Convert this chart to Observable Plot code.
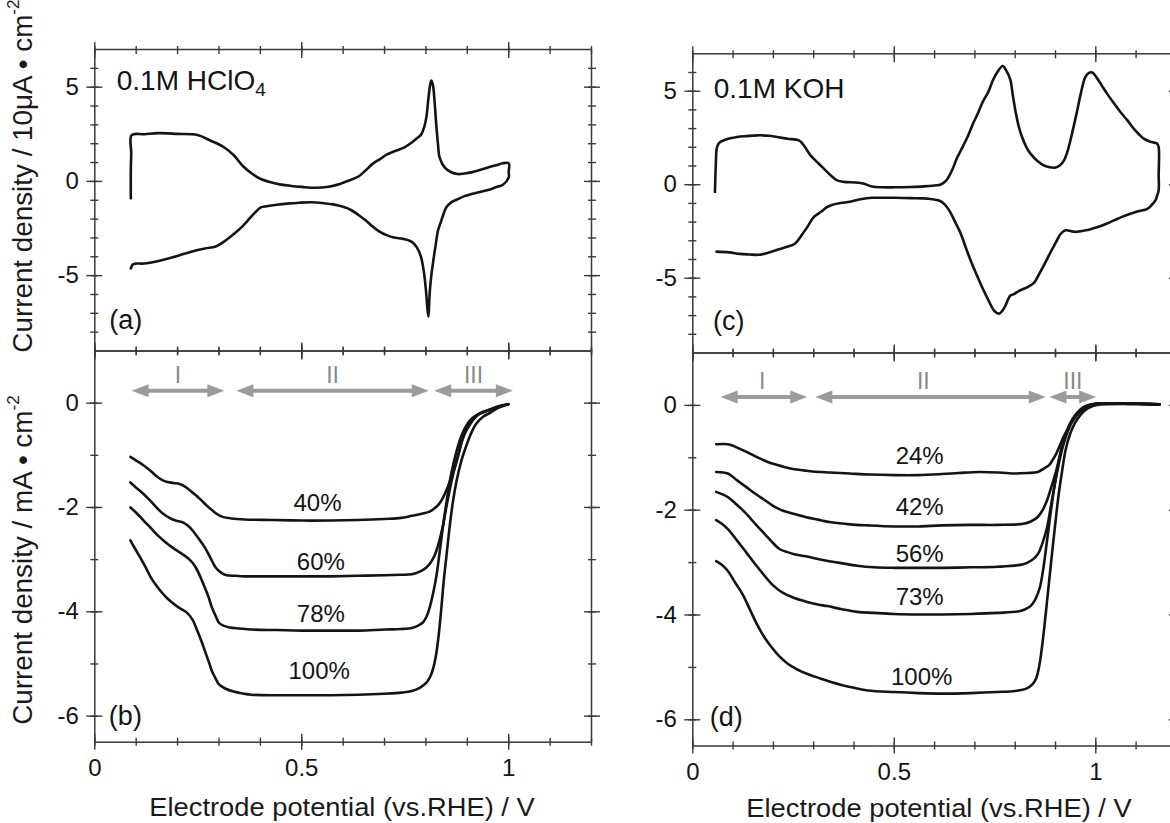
<!DOCTYPE html>
<html><head><meta charset="utf-8">
<script src="https://cdn.jsdelivr.net/npm/d3@7"></script>
<script src="https://cdn.jsdelivr.net/npm/@observablehq/plot@0.6"></script>
<style>
html,body{margin:0;padding:0;background:#fff;}
#fig{position:relative;width:1170px;height:823px;overflow:hidden;background:#fff;font-family:"Liberation Sans",Arial,sans-serif;color:#1a1a1a;}
#fig svg{position:absolute;left:0;top:0;}
.title{position:absolute;white-space:nowrap;font-size:26px;line-height:1;transform:translate(-50%,-50%) scaleX(1.05);}
.ytitle{font-size:27px;transform:translate(-50%,-50%) rotate(-90deg) scaleX(1.03);}
.title sup{font-size:0.62em;vertical-align:0.75em;line-height:0;}
</style></head><body><div id="fig"></div>
<script>
// ---------------- data ----------------
// x ticks (V)
const xMajorTicks = [0, 0.5, 1];
const xMinorTicks = [0, 0.1, 0.2, 0.3, 0.4, 0.5, 0.6, 0.7, 0.8, 0.9, 1, 1.1, 1.2];
// CV panels (a),(c): current density / 10 uA cm-2
const cvMajorTicks = [-5, 0, 5];
const cvMinorTicks = [-8, -7, -6, -5, -4, -3, -2, -1, 0, 1, 2, 3, 4, 5, 6];
// LSV panels (b),(d): current density / mA cm-2
const lsvMajorTicks = [0, -2, -4, -6];
const lsvMinorTicks = [0, -1, -2, -3, -4, -5, -6];

// (a) CV in 0.1 M HClO4
const cvAcid = [[0.087,-0.9],[0.087,0.6],[0.088,1.5],[0.089,2.46],[0.12,2.5],[0.153,2.56],[0.2,2.52],[0.248,2.46],[0.28,2.16],[0.313,1.8],[0.337,1.36],[0.357,0.83],[0.381,0.39],[0.401,0.13],[0.425,-0.05],[0.45,-0.17],[0.475,-0.24],[0.5,-0.29],[0.533,-0.34],[0.565,-0.28],[0.594,-0.12],[0.615,0.05],[0.637,0.26],[0.655,0.6],[0.671,0.93],[0.69,1.2],[0.706,1.43],[0.73,1.65],[0.749,1.82],[0.765,2.05],[0.779,2.3],[0.789,2.5],[0.796,2.9],[0.801,3.4],[0.806,4.4],[0.81,5.1],[0.813,5.35],[0.817,5.1],[0.821,4.2],[0.825,3.0],[0.829,2.0],[0.833,1.27],[0.845,0.74],[0.86,0.5],[0.877,0.39],[0.893,0.42],[0.91,0.48],[0.93,0.6],[0.95,0.74],[0.97,0.86],[0.986,0.96],[1.0,0.96],[1.0,0.5],[1.0,0.21],[0.986,-0.18],[0.97,-0.3],[0.95,-0.46],[0.93,-0.56],[0.91,-0.67],[0.893,-0.78],[0.877,-0.94],[0.862,-1.1],[0.849,-1.38],[0.843,-1.7],[0.837,-2.09],[0.829,-2.62],[0.824,-3.3],[0.818,-4.18],[0.813,-5.0],[0.809,-5.94],[0.806,-7.18],[0.803,-6.6],[0.8,-5.77],[0.795,-4.8],[0.788,-4.0],[0.778,-3.5],[0.766,-3.21],[0.745,-3.05],[0.723,-2.98],[0.705,-2.85],[0.689,-2.68],[0.672,-2.4],[0.654,-2.06],[0.637,-1.78],[0.62,-1.53],[0.6,-1.35],[0.576,-1.22],[0.55,-1.15],[0.525,-1.11],[0.495,-1.13],[0.464,-1.18],[0.44,-1.24],[0.415,-1.32],[0.401,-1.38],[0.385,-1.7],[0.369,-2.09],[0.356,-2.4],[0.345,-2.62],[0.33,-2.9],[0.312,-3.2],[0.292,-3.45],[0.266,-3.56],[0.235,-3.72],[0.205,-3.92],[0.18,-4.08],[0.154,-4.22],[0.119,-4.36],[0.093,-4.39],[0.087,-4.62]];

// (c) CV in 0.1 M KOH
const cvAlkaline = [[0.055,-0.39],[0.057,1.0],[0.06,2.0],[0.066,2.25],[0.08,2.4],[0.11,2.55],[0.134,2.6],[0.16,2.64],[0.189,2.62],[0.209,2.55],[0.235,2.46],[0.263,2.37],[0.272,2.2],[0.282,1.9],[0.292,1.57],[0.308,1.22],[0.325,0.86],[0.342,0.5],[0.358,0.23],[0.375,0.15],[0.404,0.12],[0.425,0.05],[0.445,-0.1],[0.47,-0.14],[0.5,-0.14],[0.54,-0.12],[0.573,-0.09],[0.6,-0.04],[0.614,0],[0.625,0.15],[0.633,0.35],[0.645,0.85],[0.655,1.4],[0.669,2.0],[0.683,2.62],[0.695,3.25],[0.706,3.75],[0.72,4.45],[0.733,4.95],[0.745,5.6],[0.755,6.0],[0.769,6.35],[0.778,6.1],[0.788,5.6],[0.794,4.8],[0.801,3.9],[0.809,3.1],[0.817,2.55],[0.828,2.0],[0.838,1.66],[0.856,1.25],[0.871,1.03],[0.886,0.93],[0.9,0.92],[0.912,1.05],[0.921,1.3],[0.93,1.8],[0.937,2.37],[0.946,3.2],[0.954,3.98],[0.963,4.9],[0.974,5.75],[0.983,5.98],[0.991,6.0],[1.003,5.7],[1.015,5.3],[1.028,4.87],[1.045,4.35],[1.061,3.89],[1.078,3.45],[1.094,3.0],[1.107,2.7],[1.119,2.46],[1.135,2.3],[1.152,2.2],[1.156,2.0],[1.156,0.5],[1.156,-0.3],[1.152,-0.6],[1.148,-0.84],[1.138,-1.1],[1.128,-1.29],[1.105,-1.42],[1.086,-1.55],[1.065,-1.72],[1.045,-1.91],[1.025,-2.1],[1.003,-2.27],[0.975,-2.44],[0.948,-2.52],[0.925,-2.44],[0.912,-2.65],[0.902,-3.05],[0.888,-3.6],[0.874,-4.19],[0.86,-4.75],[0.847,-5.24],[0.833,-5.45],[0.82,-5.58],[0.808,-5.7],[0.797,-5.85],[0.788,-5.93],[0.783,-6.1],[0.775,-6.5],[0.768,-6.75],[0.761,-6.89],[0.754,-6.85],[0.747,-6.72],[0.734,-6.2],[0.72,-5.58],[0.706,-4.9],[0.692,-4.19],[0.678,-3.4],[0.665,-2.62],[0.65,-1.95],[0.637,-1.4],[0.625,-1.05],[0.614,-0.87],[0.595,-0.78],[0.573,-0.73],[0.54,-0.72],[0.5,-0.7],[0.47,-0.7],[0.445,-0.7],[0.416,-0.78],[0.39,-0.91],[0.367,-0.98],[0.345,-1.08],[0.333,-1.2],[0.318,-1.45],[0.3,-1.73],[0.284,-2.27],[0.27,-2.7],[0.254,-3.14],[0.23,-3.35],[0.208,-3.49],[0.185,-3.65],[0.163,-3.75],[0.14,-3.73],[0.117,-3.7],[0.09,-3.62],[0.059,-3.58]];

// (b) LSV in HClO4 for each coverage
const lsvAcidNames = ["40%", "60%", "78%", "100%"];
const lsvAcid40 = [[0.086,-1.03],[0.1,-1.1],[0.119,-1.2],[0.135,-1.3],[0.154,-1.43],[0.17,-1.5],[0.19,-1.53],[0.205,-1.55],[0.218,-1.6],[0.231,-1.68],[0.245,-1.77],[0.257,-1.86],[0.27,-1.96],[0.283,-2.05],[0.296,-2.13],[0.309,-2.18],[0.33,-2.21],[0.361,-2.23],[0.43,-2.24],[0.5,-2.25],[0.57,-2.25],[0.637,-2.24],[0.7,-2.22],[0.74,-2.2],[0.766,-2.16],[0.79,-2.12],[0.809,-2.08],[0.82,-2.02],[0.831,-1.94],[0.842,-1.8],[0.852,-1.62],[0.861,-1.43],[0.87,-1.23],[0.879,-0.98],[0.887,-0.72],[0.895,-0.56],[0.904,-0.44],[0.915,-0.31],[0.93,-0.2],[0.945,-0.15],[0.956,-0.12],[0.97,-0.08],[0.982,-0.05],[0.999,-0.02]];
const lsvAcid60 = [[0.086,-1.52],[0.1,-1.62],[0.119,-1.75],[0.135,-1.88],[0.154,-2.04],[0.17,-2.15],[0.188,-2.23],[0.2,-2.26],[0.214,-2.29],[0.228,-2.37],[0.24,-2.48],[0.253,-2.62],[0.266,-2.77],[0.279,-2.96],[0.292,-3.15],[0.305,-3.25],[0.318,-3.3],[0.34,-3.31],[0.361,-3.32],[0.43,-3.32],[0.5,-3.32],[0.57,-3.32],[0.637,-3.31],[0.7,-3.3],[0.74,-3.29],[0.766,-3.28],[0.785,-3.23],[0.801,-3.15],[0.812,-3.05],[0.822,-2.9],[0.831,-2.68],[0.84,-2.39],[0.848,-2.05],[0.857,-1.68],[0.867,-1.32],[0.878,-0.98],[0.887,-0.73],[0.896,-0.53],[0.908,-0.36],[0.921,-0.24],[0.94,-0.16],[0.956,-0.12],[0.975,-0.06],[0.999,-0.02]];
const lsvAcid78 = [[0.086,-2.0],[0.1,-2.1],[0.119,-2.26],[0.135,-2.39],[0.154,-2.55],[0.17,-2.66],[0.188,-2.77],[0.205,-2.86],[0.223,-2.96],[0.235,-3.05],[0.244,-3.15],[0.255,-3.33],[0.266,-3.54],[0.275,-3.72],[0.283,-3.92],[0.292,-4.08],[0.3,-4.21],[0.312,-4.27],[0.326,-4.3],[0.35,-4.32],[0.378,-4.34],[0.44,-4.35],[0.5,-4.36],[0.57,-4.36],[0.637,-4.36],[0.7,-4.34],[0.74,-4.33],[0.766,-4.31],[0.78,-4.27],[0.792,-4.21],[0.801,-4.1],[0.809,-3.92],[0.818,-3.62],[0.826,-3.28],[0.834,-2.8],[0.843,-2.26],[0.852,-1.78],[0.861,-1.36],[0.874,-0.92],[0.887,-0.6],[0.9,-0.4],[0.913,-0.28],[0.93,-0.2],[0.947,-0.15],[0.97,-0.08],[0.999,-0.02]];
const lsvAcid100 = [[0.086,-2.63],[0.098,-2.8],[0.11,-2.96],[0.123,-3.15],[0.136,-3.35],[0.149,-3.5],[0.162,-3.63],[0.175,-3.74],[0.188,-3.83],[0.205,-3.93],[0.223,-4.02],[0.236,-4.15],[0.248,-4.37],[0.257,-4.55],[0.266,-4.75],[0.275,-4.95],[0.283,-5.14],[0.292,-5.28],[0.3,-5.39],[0.315,-5.47],[0.335,-5.53],[0.36,-5.57],[0.378,-5.59],[0.44,-5.6],[0.5,-5.6],[0.57,-5.6],[0.637,-5.59],[0.7,-5.57],[0.74,-5.55],[0.766,-5.52],[0.785,-5.46],[0.801,-5.36],[0.81,-5.25],[0.818,-5.07],[0.825,-4.8],[0.831,-4.43],[0.837,-3.95],[0.843,-3.41],[0.85,-2.9],[0.857,-2.39],[0.865,-1.9],[0.874,-1.49],[0.885,-1.12],[0.896,-0.85],[0.908,-0.6],[0.921,-0.4],[0.938,-0.26],[0.956,-0.18],[0.975,-0.09],[0.999,-0.02]];
const lsvAcidLabelX = [0.538, 0.546, 0.546, 0.542];
const lsvAcidLabelY = [-1.92, -3.06, -4.05, -5.15];

// (d) LSV in KOH for each coverage
const lsvAlkNames = ["24%", "42%", "56%", "73%", "100%"];
const lsvAlk24 = [[0.058,-0.74],[0.087,-0.74],[0.1,-0.77],[0.114,-0.82],[0.137,-0.9],[0.16,-0.99],[0.183,-1.07],[0.206,-1.13],[0.229,-1.18],[0.252,-1.22],[0.275,-1.24],[0.298,-1.26],[0.34,-1.28],[0.389,-1.3],[0.44,-1.32],[0.5,-1.33],[0.56,-1.33],[0.618,-1.31],[0.66,-1.29],[0.71,-1.27],[0.76,-1.28],[0.801,-1.3],[0.83,-1.29],[0.856,-1.27],[0.872,-1.2],[0.884,-1.14],[0.893,-1.04],[0.902,-0.92],[0.911,-0.76],[0.92,-0.6],[0.93,-0.45],[0.939,-0.31],[0.948,-0.2],[0.957,-0.12],[0.966,-0.06],[0.975,-0.02],[0.99,0.02],[1.003,0.04],[1.03,0.04],[1.08,0.03],[1.12,0.03],[1.158,0.02]];
const lsvAlk42 = [[0.058,-1.27],[0.087,-1.3],[0.11,-1.43],[0.133,-1.56],[0.156,-1.69],[0.179,-1.81],[0.2,-1.92],[0.224,-2.01],[0.25,-2.07],[0.279,-2.13],[0.31,-2.18],[0.343,-2.23],[0.39,-2.27],[0.435,-2.29],[0.5,-2.31],[0.56,-2.31],[0.618,-2.29],[0.69,-2.28],[0.755,-2.28],[0.82,-2.26],[0.84,-2.21],[0.856,-2.13],[0.868,-2.0],[0.879,-1.81],[0.89,-1.55],[0.902,-1.24],[0.911,-0.95],[0.92,-0.66],[0.93,-0.46],[0.939,-0.31],[0.952,-0.16],[0.966,-0.05],[0.985,0.01],[1.003,0.03],[1.158,0.02]];
const lsvAlk56 = [[0.058,-1.65],[0.087,-1.75],[0.11,-1.9],[0.133,-2.07],[0.156,-2.27],[0.179,-2.46],[0.197,-2.61],[0.215,-2.74],[0.235,-2.8],[0.252,-2.84],[0.28,-2.88],[0.316,-2.94],[0.36,-3.0],[0.408,-3.06],[0.45,-3.09],[0.5,-3.1],[0.56,-3.1],[0.618,-3.1],[0.69,-3.09],[0.755,-3.08],[0.82,-3.03],[0.84,-2.96],[0.856,-2.84],[0.868,-2.62],[0.879,-2.33],[0.888,-1.95],[0.897,-1.56],[0.906,-1.2],[0.916,-0.85],[0.927,-0.57],[0.939,-0.34],[0.952,-0.19],[0.966,-0.08],[0.985,0.0],[1.003,0.03],[1.158,0.02]];
const lsvAlk73 = [[0.058,-2.19],[0.072,-2.26],[0.087,-2.36],[0.11,-2.58],[0.133,-2.81],[0.156,-3.04],[0.179,-3.26],[0.2,-3.44],[0.224,-3.58],[0.25,-3.67],[0.279,-3.74],[0.31,-3.8],[0.334,-3.83],[0.37,-3.89],[0.408,-3.94],[0.45,-3.96],[0.5,-3.98],[0.56,-3.99],[0.618,-3.99],[0.69,-3.98],[0.755,-3.96],[0.81,-3.93],[0.825,-3.89],[0.838,-3.83],[0.85,-3.7],[0.861,-3.48],[0.87,-3.1],[0.879,-2.58],[0.888,-2.05],[0.897,-1.56],[0.906,-1.15],[0.916,-0.79],[0.927,-0.53],[0.939,-0.34],[0.952,-0.19],[0.966,-0.08],[0.985,0.0],[1.003,0.03],[1.158,0.02]];
const lsvAlk100 = [[0.058,-2.97],[0.072,-3.04],[0.087,-3.16],[0.105,-3.38],[0.124,-3.61],[0.142,-3.9],[0.16,-4.19],[0.178,-4.43],[0.197,-4.63],[0.215,-4.79],[0.234,-4.92],[0.252,-5.01],[0.27,-5.08],[0.293,-5.15],[0.316,-5.21],[0.343,-5.28],[0.371,-5.34],[0.4,-5.39],[0.435,-5.44],[0.5,-5.47],[0.56,-5.49],[0.618,-5.5],[0.69,-5.49],[0.755,-5.47],[0.8,-5.45],[0.829,-5.4],[0.842,-5.33],[0.852,-5.21],[0.859,-5.0],[0.865,-4.7],[0.872,-4.25],[0.879,-3.74],[0.886,-3.22],[0.893,-2.71],[0.9,-2.22],[0.907,-1.75],[0.916,-1.27],[0.925,-0.85],[0.936,-0.55],[0.948,-0.34],[0.961,-0.19],[0.975,-0.08],[0.99,-0.02],[1.003,0.01],[1.158,0.02]];
const lsvAlkLabelX = [0.563, 0.563, 0.563, 0.563, 0.568];
const lsvAlkLabelY = [-0.98, -1.94, -2.84, -3.67, -5.18];

// potential regions I, II, III
const regionNames = ["I", "II", "III"];
const regionAcidStart = [0.089, 0.342, 0.82];
const regionAcidEnd = [0.313, 0.807, 1.01];
const regionAcidY = 0.24, regionAcidLabelY = 0.52;
const regionAlkStart = [0.069, 0.304, 0.885];
const regionAlkEnd = [0.284, 0.876, 1.001];
const regionAlkLabelX = [0.172, 0.572, 0.943];
const regionAlkY = 0.16, regionAlkLabelY = 0.46;

// panel annotations
const panelTags = ["(a)", "(b)", "(c)", "(d)"];
const tagX = [0.035, 0.034, 0.05, 0.042];
const tagY = [-7.35, -6.0, -7.33, -5.95];
const electrolytes = ["0.1M HClO4", "0.1M KOH"];
const electrolyteX = [0.053, 0.052];
const electrolyteY = [5.33, 5.09];

// ---------------- drawing ----------------
const INK = "#141414", AXIS = "#3a3a3a", GREY = "#9b9b9b";
const FONT = '"Liberation Sans", Arial, sans-serif';
const SVG_W = 1180, SVG_H = 823;
const fig = document.getElementById("fig");

function crossTicks(values, axis, half) {
  const o = {tickSize: 2 * half, fill: "none", label: null, stroke: AXIS, strokeWidth: 1.4};
  if (axis === "x") return [
    Plot.axisX(values, {...o, anchor: "bottom", dy: -half}),
    Plot.axisX(values, {...o, anchor: "top", dy: half})
  ];
  return [
    Plot.axisY(values, {...o, anchor: "left", dx: half}),
    Plot.axisY(values, {...o, anchor: "right", dx: -half})
  ];
}

const triangle = {
  draw(ctx, l, r) { ctx.moveTo(-r, 0); ctx.lineTo(0, -l); ctx.lineTo(r, 0); ctx.closePath(); }
};

function regionMarks(start, end, names, yArrow, yLabel, labelX) {
  const rows = names.map((n, i) => ({n, x1: start[i], x2: end[i], y: yArrow, ly: yLabel, lx: labelX ? labelX[i] : (start[i] + end[i]) / 2}));
  return [
    Plot.ruleY(rows, {y: "y", x1: "x1", x2: "x2", stroke: GREY, strokeWidth: 4, insetLeft: 8, insetRight: 8}),
    Plot.vector(rows, {x: "x2", y: "y", rotate: 90, length: 17, r: 6.5, anchor: "end", shape: triangle, fill: GREY, stroke: "none"}),
    Plot.vector(rows, {x: "x1", y: "y", rotate: -90, length: 17, r: 6.5, anchor: "end", shape: triangle, fill: GREY, stroke: "none"}),
    Plot.text(rows, {x: "lx", y: "ly", text: "n", fill: "#8a8a8a", fontSize: 23})
  ];
}

function panel({box, yDomain, yMajor, yMinor, xLabels, marks}) {
  const svg = Plot.plot({
    width: SVG_W, height: SVG_H,
    marginLeft: box.l, marginRight: SVG_W - box.r, marginTop: box.t, marginBottom: SVG_H - box.b,
    x: {domain: [0, 1.2], label: null},
    y: {domain: yDomain, label: null},
    style: {background: "transparent", maxWidth: "none", overflow: "visible", fontFamily: FONT, color: INK},
    marks: [
      ...marks,
      Plot.frame({stroke: AXIS, strokeWidth: 1.5}),
      ...crossTicks(xMinorTicks, "x", 4),
      ...crossTicks(xMajorTicks, "x", 8),
      ...crossTicks(yMinor, "y", 4),
      ...crossTicks(yMajor, "y", 8),
      Plot.axisY(yMajor, {anchor: "left", tickSize: 0, tickPadding: 16, tickFormat: d => String(d), fontSize: 24, fill: INK, label: null}),
      xLabels ? Plot.axisX(xMajorTicks, {anchor: "bottom", tickSize: 0, tickPadding: 17, tickFormat: d => String(d), fontSize: 24, fill: INK, label: null}) : null
    ]
  });
  fig.appendChild(svg);
  // subscript for HClO4
  d3.select(svg).selectAll("text").filter(function () { return this.textContent === "0.1M HClO4"; })
    .each(function () {
      const t = d3.select(this);
      t.text("0.1M HClO");
      t.append("tspan").attr("dy", "0.3em").attr("font-size", "0.68em").text("4");
    });
  return svg;
}

const toRows = (curves, names) => curves.flatMap((pts, i) => pts.map(([x, y]) => ({x, y, s: names[i]})));
const cvRows = pts => pts.map(([x, y], i) => ({x, y, i}));
const lineStyle = {x: "x", y: "y", stroke: INK, strokeWidth: 2.6, curve: "catmull-rom", strokeLinejoin: "round"};
const tagMark = i => Plot.text([panelTags[i]], {x: () => tagX[i], y: () => tagY[i], text: d => d, textAnchor: "start", fontSize: 27, fill: INK});
const elecMark = i => Plot.text([electrolytes[i]], {x: () => electrolyteX[i], y: () => electrolyteY[i], text: d => d, textAnchor: "start", fontSize: 28, fill: INK});
const pctMarks = (names, xs, ys) => Plot.text(names.map((n, i) => ({n, x: xs[i], y: ys[i]})), {x: "x", y: "y", text: "n", fontSize: 24, fill: INK});

// (a)
panel({
  box: {l: 94.3, r: 591, t: 49, b: 350.5}, yDomain: [-9, 7], yMajor: cvMajorTicks, yMinor: cvMinorTicks, xLabels: false,
  marks: [Plot.line(cvRows(cvAcid), lineStyle), elecMark(0), tagMark(0)]
});
// (b)
panel({
  box: {l: 94.3, r: 591, t: 350.5, b: 741.7}, yDomain: [-6.5, 1], yMajor: lsvMajorTicks, yMinor: lsvMinorTicks, xLabels: true,
  marks: [
    Plot.line(toRows([lsvAcid40, lsvAcid60, lsvAcid78, lsvAcid100], lsvAcidNames), {...lineStyle, z: "s"}),
    pctMarks(lsvAcidNames, lsvAcidLabelX, lsvAcidLabelY),
    ...regionMarks(regionAcidStart, regionAcidEnd, regionNames, regionAcidY, regionAcidLabelY),
    tagMark(1)
  ]
});
// (c)
panel({
  box: {l: 692.3, r: 1175.9, t: 53.3, b: 352.5}, yDomain: [-9, 7], yMajor: cvMajorTicks, yMinor: cvMinorTicks, xLabels: false,
  marks: [Plot.line(cvRows(cvAlkaline), lineStyle), elecMark(1), tagMark(2)]
});
// (d)
panel({
  box: {l: 692.3, r: 1175.9, t: 352.5, b: 745.5}, yDomain: [-6.5, 1], yMajor: lsvMajorTicks, yMinor: lsvMinorTicks, xLabels: true,
  marks: [
    Plot.line(toRows([lsvAlk24, lsvAlk42, lsvAlk56, lsvAlk73, lsvAlk100], lsvAlkNames), {...lineStyle, z: "s"}),
    pctMarks(lsvAlkNames, lsvAlkLabelX, lsvAlkLabelY),
    ...regionMarks(regionAlkStart, regionAlkEnd, regionNames, regionAlkY, regionAlkLabelY, regionAlkLabelX),
    tagMark(3)
  ]
});

// axis titles
function addTitle(html, x, y, vertical) {
  const d = document.createElement("div");
  d.className = "title" + (vertical ? " ytitle" : "");
  d.style.left = x + "px"; d.style.top = y + "px";
  d.innerHTML = html;
  fig.appendChild(d);
}
addTitle("Electrode potential (vs.RHE) / V", 342, 807, false);
addTitle("Electrode potential (vs.RHE) / V", 939, 808, false);
addTitle("Current density / 10μA • cm<sup>-2</sup>", 23, 176, true);
addTitle("Current density / mA • cm<sup>-2</sup>", 23, 560, true);
</script></body></html>
